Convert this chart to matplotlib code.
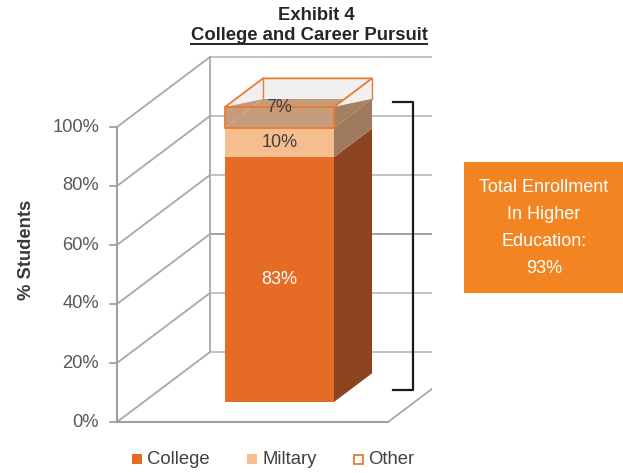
import matplotlib
matplotlib.use('Agg')
import matplotlib.pyplot as plt
from matplotlib.patches import Polygon, Rectangle

# ---- data ----
categories = ["College", "Miltary", "Other"]
values = [83, 10, 7]
yticks = [0, 20, 40, 60, 80, 100]
tick_labels = ["0%", "20%", "40%", "60%", "80%", "100%"]
label_texts = ["83%", "10%", "7%"]
callout_lines = ["Total Enrollment", "In Higher", "Education:", "93%"]
title_1 = "Exhibit 4"
title_2 = "College and Career Pursuit"
ylabel = "% Students"

# ---- styles ----
front_cols = ["#E66C26", "#F6BE8E", "none"]
side_cols = ["#8C4420", "#A07A5E", "none"]
top_col_mil = "#C49B7B"
other_edge = "#EA7B32"
grey_back = "#F1F0EE"

plt.rcParams['font.family'] = ['Liberation Sans', 'DejaVu Sans']
W, H = 623, 473
fig = plt.figure(figsize=(W / 100, H / 100), dpi=100)
ax = fig.add_axes([0, 0, 1, 1])
PX = 2.95   # pixels per percent
Y0 = 422    # pixel row of 0% on the front plane
ax.set_xlim(0, W)
ax.set_ylim(-(H - Y0) / PX, Y0 / PX)
ax.axis('off')

DX = 93.0
DV = 70.0 / PX


def P(x, v, f):
    return (x + DX * f, v + DV * f)


def vpx(py):
    return (Y0 - py) / PX


XL = 117      # front-left axis x
XFR = 388     # floor front-right x
XCLIP = 432   # plot area right clip

clip = Rectangle((0, -100), XCLIP, 400, transform=ax.transData)

# ---- walls / gridlines ----
for v in yticks:
    x0, yv = P(XL, v, 1)
    col = "#9A9A9A" if v == 40 else "#BDBDBD"
    ln, = ax.plot([x0, XCLIP + 10], [yv, yv], color=col, lw=1.3, zorder=1)
    ln.set_clip_path(clip)
    a, b = P(XL, v, 0), P(XL, v, 1)
    ax.plot([a[0], b[0]], [a[1], b[1]], color="#A8A8A8", lw=1.3, zorder=1)
    ax.plot([XL - 7, XL], [v, v], color="#A0A0A0", lw=1.3, zorder=1)
    ax.text(XL - 18, v, tick_labels[yticks.index(v)], ha='right', va='center',
            fontsize=13.2, color="#595959")

b0, b1 = P(XL, 0, 1), P(XL, 100, 1)
ax.plot([b0[0], b1[0]], [b0[1], b1[1]], color="#A8A8A8", lw=1.3, zorder=1)
ax.plot([XL, XL], [0, 100], color="#A0A0A0", lw=1.5, zorder=2)
ax.plot([XL, XFR], [0, 0], color="#A0A0A0", lw=1.5, zorder=2)
fr0, fr1 = P(XFR, 0, 0), P(XFR, 0, 0.7)
ln, = ax.plot([fr0[0], fr1[0]], [fr0[1], fr1[1]], color="#A8A8A8", lw=1.3, zorder=1)
ln.set_clip_path(clip)

# ---- bar ----
xb0, bw = 198.4, 109.0
f1, f2 = 0.286, 0.695


def face_front(b, t):
    return [P(xb0, b, f1), P(xb0 + bw, b, f1), P(xb0 + bw, t, f1), P(xb0, t, f1)]


def face_side(b, t):
    return [P(xb0 + bw, b, f1), P(xb0 + bw, b, f2), P(xb0 + bw, t, f2), P(xb0 + bw, t, f1)]


def face_top(t):
    return [P(xb0, t, f1), P(xb0 + bw, t, f1), P(xb0 + bw, t, f2), P(xb0, t, f2)]


bottoms = [sum(values[:i]) for i in range(len(values))]
tops = [b + v for b, v in zip(bottoms, values)]

# College
ax.add_patch(Polygon(face_front(bottoms[0], tops[0]), closed=True, fc=front_cols[0], ec='none', zorder=3))
ax.add_patch(Polygon(face_side(bottoms[0], tops[0]), closed=True, fc=side_cols[0], ec='none', zorder=3))
# Military
ax.add_patch(Polygon(face_front(bottoms[1], tops[1]), closed=True, fc=front_cols[1], ec='none', zorder=3))
ax.add_patch(Polygon(face_side(bottoms[1], tops[1]), closed=True, fc=side_cols[1], ec='none', zorder=3))
ax.add_patch(Polygon(face_top(tops[1]), closed=True, fc=top_col_mil, ec='none', zorder=3))

# Other (transparent box)
ob, ot = bottoms[2], tops[2]
ax.add_patch(Polygon([P(xb0, ob, f2), P(xb0 + bw, ob, f2), P(xb0 + bw, ot, f2), P(xb0, ot, f2)],
                     closed=True, fc=grey_back, ec='none', zorder=4))
# left face: upper grey, lower brown
ax.add_patch(Polygon([P(xb0, ot, f1), P(xb0, ot, f2), P(xb0, ob, f2)], closed=True,
                     fc=grey_back, ec='none', zorder=4))
ax.add_patch(Polygon([P(xb0, ot, f1), P(xb0, ob, f1), P(xb0, ob, f2)], closed=True,
                     fc=top_col_mil, ec='none', zorder=4))
# right face: upper grey, lower brown
ax.add_patch(Polygon([P(xb0 + bw, ot, f1), P(xb0 + bw, ot, f2), P(xb0 + bw, ob, f2)], closed=True,
                     fc=grey_back, ec='none', zorder=4))
ax.add_patch(Polygon([P(xb0 + bw, ot, f1), P(xb0 + bw, ob, f1), P(xb0 + bw, ob, f2)], closed=True,
                     fc="#A5825F", ec='none', zorder=4))
# edges
ax.add_patch(Polygon(face_front(ob, ot), closed=True, fc='none', ec=other_edge, lw=1.3, zorder=5))
ax.add_patch(Polygon(face_top(ot), closed=True, fc='none', ec=other_edge, lw=1.3, zorder=5))
for xx in (xb0, xb0 + bw):
    a, b = P(xx, ob, f2), P(xx, ot, f2)
    ax.plot([a[0], b[0]], [a[1], b[1]], color=other_edge, lw=1.0, zorder=5)

# segment labels
cx = xb0 + bw / 2 + DX * f1
label_offsets = [0, 0, 3.2]
label_colors = ["white", "#404040", "#404040"]
for i in range(3):
    vc = (bottoms[i] + tops[i]) / 2 + DV * f1 + label_offsets[i]
    ax.text(cx, vc, label_texts[i], ha='center', va='center', fontsize=13,
            color=label_colors[i], zorder=6)

# ---- bracket ----
bt, bb = vpx(102), vpx(390)
ax.plot([393, 413, 413, 393], [bt, bt, bb, bb], color="#1A1A1A", lw=1.6,
        solid_joinstyle='round', zorder=6)

# ---- callout box ----
ax.add_patch(Rectangle((464, vpx(293)), W - 464, vpx(162) - vpx(293), fc="#F28522", ec='none', zorder=6))
for i, line in enumerate(callout_lines):
    ax.text(544, vpx(188 + 26.7 * i), line, ha='center', va='center', fontsize=13,
            color="white", zorder=7)

# ---- titles ----
ax.text(316, vpx(16), title_1, ha='center', va='center', fontsize=13.3, fontweight='bold', color="#262626")
t2 = ax.text(309, vpx(36), title_2, ha='center', va='center', fontsize=13.3, fontweight='bold', color="#262626")
fig.canvas.draw()
bb2 = t2.get_window_extent().transformed(ax.transData.inverted())
ax.plot([bb2.x0, bb2.x1], [vpx(44), vpx(44)], color="#262626", lw=1.4)

ax.text(27, vpx(250), ylabel, ha='center', va='center', rotation=90, fontsize=13.2,
        fontweight='bold', color="#3A3A3A")

# ---- legend ----
leg_x = [137, 252, 358]
leg_y = vpx(459)
for i, name in enumerate(categories):
    if i < 2:
        ax.add_patch(Rectangle((leg_x[i] - 5, leg_y - 5 / PX), 10, 10 / PX, fc=front_cols[i], ec='none'))
    else:
        ax.add_patch(Rectangle((leg_x[i] - 4.5, leg_y - 4.5 / PX), 9, 9 / PX, fc='white', ec=other_edge, lw=1.3))
    ax.text(leg_x[i] + 10, leg_y, name, ha='left', va='center', fontsize=13.3, color="#404040")

fig.savefig("out.png", dpi=100)
